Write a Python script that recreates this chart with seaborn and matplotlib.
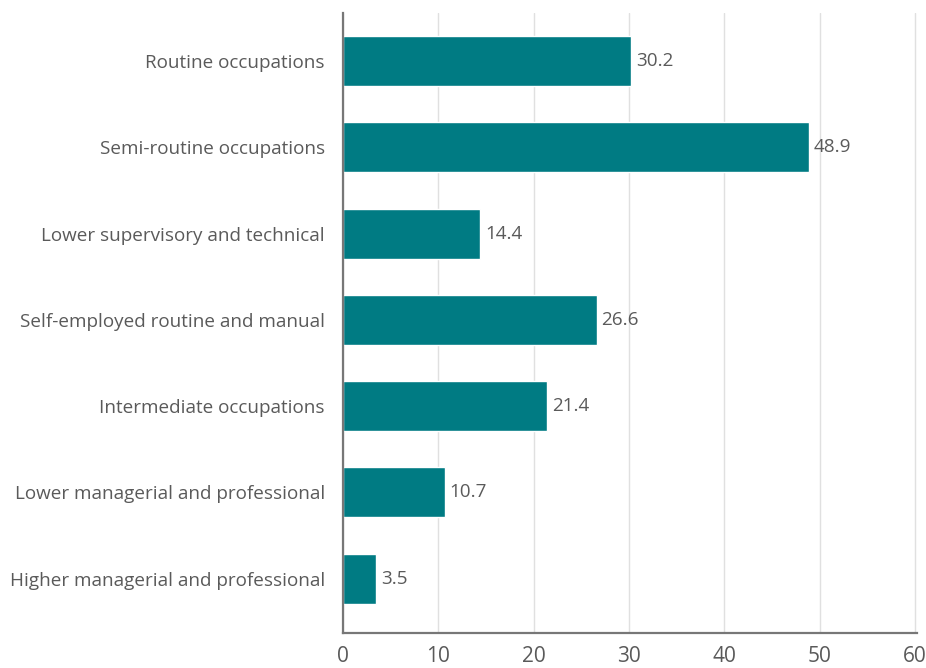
import matplotlib
matplotlib.use("Agg")
import matplotlib.pyplot as plt
import seaborn as sns
import pandas as pd

categories = [
    "Routine occupations",
    "Semi-routine occupations",
    "Lower supervisory and technical",
    "Self-employed routine and manual",
    "Intermediate occupations",
    "Lower managerial and professional",
    "Higher managerial and professional",
]
values = [30.2, 48.9, 14.4, 26.6, 21.4, 10.7, 3.5]
x_ticks = [0, 10, 20, 30, 40, 50, 60]

df = pd.DataFrame({"category": categories, "value": values})

sns.set_theme(style="white")
plt.rcParams["font.family"] = ["Open Sans", "DejaVu Sans"]

text_color = "#5a5a5a"
bar_color = "#007b83"

fig = plt.figure(figsize=(9.26, 6.68), dpi=100)
ax = fig.add_axes([343 / 926, 1 - 633 / 668, (917 - 343) / 926, (633 - 13) / 668])

sns.barplot(data=df, x="value", y="category", color=bar_color, width=0.58,
            saturation=1, ax=ax, zorder=3)

ax.set_xlim(0, 60.2)
ax.set_ylim(6.63, -0.557)
ax.set_xticks(x_ticks)
ax.set_xticklabels([str(t) for t in x_ticks])
ax.xaxis.grid(True, color="#e0e0e0", linewidth=1.0, zorder=0)
ax.yaxis.grid(False)
ax.set_xlabel("")
ax.set_ylabel("")

for side in ("top", "right"):
    ax.spines[side].set_visible(False)
for side in ("left", "bottom"):
    ax.spines[side].set_color("#777777")
    ax.spines[side].set_linewidth(1.6)
    ax.spines[side].set_zorder(4)

ax.tick_params(axis="both", length=0, colors=text_color)
ax.tick_params(axis="y", labelsize=13.6, pad=13)
ax.tick_params(axis="x", labelsize=15, pad=9)

for i, v in enumerate(values):
    ax.text(v + 0.5, i, f"{v:.1f}", va="center", ha="left",
            fontsize=13.6, color=text_color)

fig.savefig("out.png", dpi=100)
